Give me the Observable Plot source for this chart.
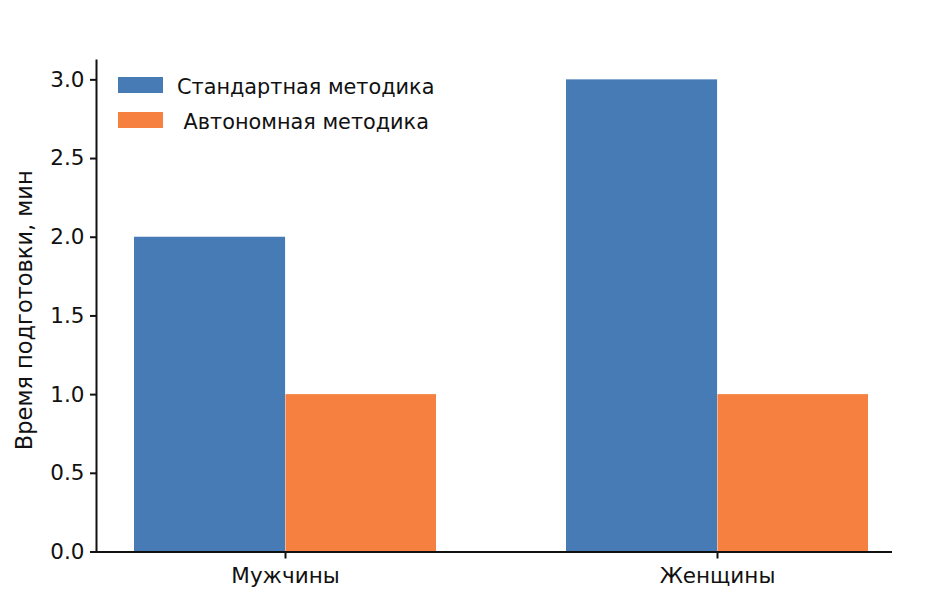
<!DOCTYPE html>
<html>
<head>
<meta charset="utf-8">
<script src="https://cdn.jsdelivr.net/npm/d3@7"></script>
<script src="https://cdn.jsdelivr.net/npm/@observablehq/plot@0.6"></script>
<style>
  body { margin: 0; background: #fff; font-family: "DejaVu Sans", sans-serif; }
  #wrap { position: relative; width: 950px; height: 609px; }
  .legend { position: absolute; left: 118px; top: 76px; font-family: "DejaVu Sans", sans-serif; font-size: 20.8px; color: #111; }
  .row { display: flex; align-items: center; height: 18px; margin-bottom: 17px; white-space: pre; }
  .row span { position: relative; top: 2px; }
  .sw { width: 45px; height: 16px; margin-right: 14px; }
</style>
</head>
<body>
<div id="wrap"></div>
<script>
const groups = ["Мужчины", "Женщины"];
const seriesNames = ["Стандартная методика", " Автономная методика"];
const standard = [2.0, 3.0];
const autonomous = [1.0, 1.0];
const yTicks = [0, 0.5, 1.0, 1.5, 2.0, 2.5, 3.0];
const colors = ["#477bb6", "#f6803f"];

const stdData = groups.map((g, i) => ({group: g, value: standard[i]}));
const autoData = groups.map((g, i) => ({group: g, value: autonomous[i]}));

const x0 = 133.5, x1 = 869, padInner = 0.3;
const bw = (x1 - x0) / (2 - padInner) * (1 - padInner);

const chart = Plot.plot({
  width: 950,
  height: 609,
  marginLeft: 96,
  marginRight: 58,
  marginTop: 60,
  marginBottom: 57.5,
  style: {fontFamily: "DejaVu Sans, sans-serif", color: "#111", background: "#fff"},
  x: {domain: groups, range: [x0, x1], paddingInner: padInner, paddingOuter: 0, label: null},
  y: {domain: [0, 3.123], label: null},
  marks: [
    Plot.barY(stdData, {x: "group", y: "value", fill: colors[0], insetRight: bw / 2 - 0.5}),
    Plot.barY(autoData, {x: "group", y: "value", fill: colors[1], insetLeft: bw / 2}),
    Plot.ruleY([0], {stroke: "#111", strokeWidth: 2}),
    Plot.frame({anchor: "left", stroke: "#111", strokeWidth: 2}),
    Plot.axisX({tickSize: 7, tickPadding: 9, fontSize: 21.5, label: null, stroke: "#111", strokeWidth: 2}),
    Plot.axisY({ticks: yTicks, tickFormat: ".1f", tickSize: 6, tickPadding: 6, fontSize: 21.5,
      label: null, stroke: "#111", strokeWidth: 2}),
    Plot.text(["Время подготовки, мин"], {frameAnchor: "left", dx: -72, dy: 4, rotate: -90, fontSize: 22.5,
      fill: "#111", lineAnchor: "middle", textAnchor: "middle"})
  ]
});
document.getElementById("wrap").appendChild(chart);

const legend = document.createElement("div");
legend.className = "legend";
seriesNames.forEach((name, i) => {
  const row = document.createElement("div");
  row.className = "row";
  const sw = document.createElement("div");
  sw.className = "sw";
  sw.style.background = colors[i];
  const t = document.createElement("span");
  t.textContent = name;
  row.appendChild(sw);
  row.appendChild(t);
  legend.appendChild(row);
});
document.getElementById("wrap").appendChild(legend);
</script>
</body>
</html>
